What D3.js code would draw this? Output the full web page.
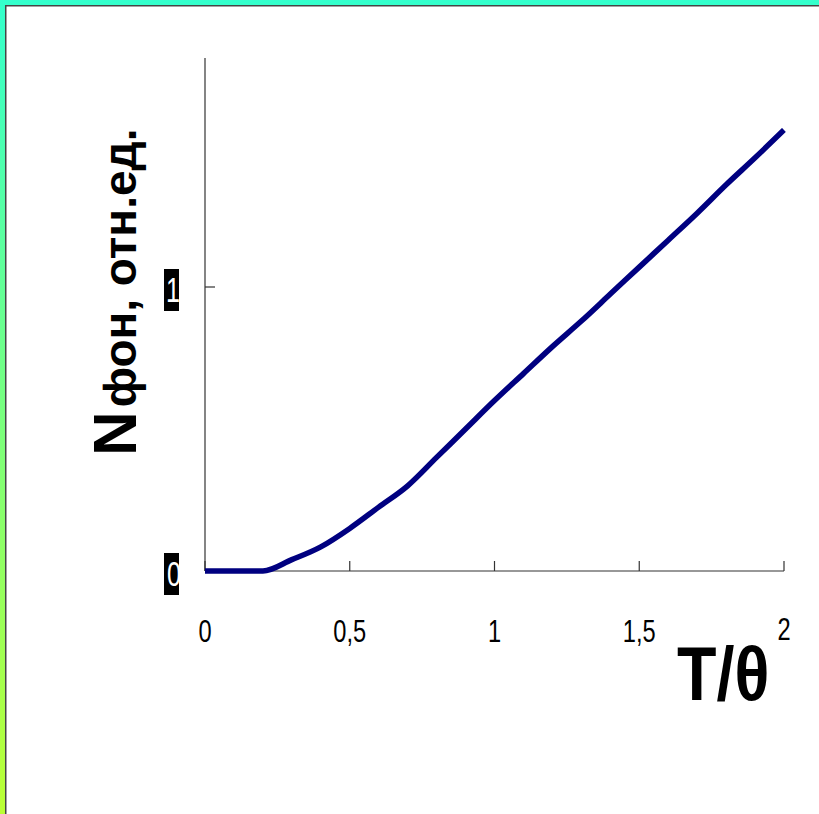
<!DOCTYPE html>
<html>
<head>
<meta charset="utf-8">
<script src="https://cdn.jsdelivr.net/npm/d3@7/dist/d3.min.js"></script>
<style>
html,body{margin:0;padding:0;}
body{width:819px;height:814px;overflow:hidden;background:#fff;}
</style>
</head>
<body>
<script>
// Data
const xValues = [0, 0.1, 0.2, 0.3, 0.4, 0.5, 0.6, 0.7, 0.8, 0.9, 1.0, 1.1, 1.2, 1.3, 1.4, 1.5, 1.6, 1.7, 1.8, 1.9, 2.0];
const yValues = [0, 0, 0, 0.04, 0.085, 0.15, 0.225, 0.30, 0.40, 0.50, 0.60, 0.695, 0.79, 0.88, 0.975, 1.07, 1.165, 1.26, 1.36, 1.455, 1.553];
const xTicks = [0, 0.5, 1, 1.5, 2];
const xTickLabels = ["0", "0,5", "1", "1,5", "2"];
const yTicks = [0, 1];
const yTickLabels = ["0", "1"];
const xTitle = "T/θ";
const yTitleMain = "N";
const yTitleRest = "фон, отн.ед.";

const W = 819, H = 814;
const svg = d3.select("body").append("svg").attr("width", W).attr("height", H);

// frame background gradient
const defs = svg.append("defs");
const grad = defs.append("linearGradient").attr("id", "bg").attr("x1", 0).attr("y1", 0).attr("x2", 0).attr("y2", 1);
grad.append("stop").attr("offset", "0%").attr("stop-color", "#33FFCC");
grad.append("stop").attr("offset", "100%").attr("stop-color", "#BBFF33");
svg.append("rect").attr("width", W).attr("height", H).attr("fill", "url(#bg)");
svg.append("rect").attr("x", 5).attr("y", 5).attr("width", W - 5).attr("height", H - 5).attr("fill", "#444");
svg.append("rect").attr("x", 6.5).attr("y", 6.5).attr("width", W - 6.5).attr("height", H - 6.5).attr("fill", "#fff");

const x = d3.scaleLinear().domain([0, 2]).range([205, 784]);
const y = d3.scaleLinear().domain([0, 1]).range([571, 287]);
const yTop = 58;

const axisColor = "#333";
const sans = "'Liberation Sans', Arial, sans-serif";

// y axis
svg.append("line").attr("x1", x(0)).attr("x2", x(0)).attr("y1", yTop).attr("y2", y(0))
  .attr("stroke", axisColor).attr("stroke-width", 1.2);
// x axis
svg.append("line").attr("x1", x(0)).attr("x2", x(2)).attr("y1", y(0)).attr("y2", y(0))
  .attr("stroke", axisColor).attr("stroke-width", 1.2);

// x ticks (inside, upward)
svg.selectAll(".xt").data(xTicks).enter().append("line")
  .attr("x1", d => x(d)).attr("x2", d => x(d))
  .attr("y1", y(0)).attr("y2", y(0) - 10)
  .attr("stroke", axisColor).attr("stroke-width", 1.2);
// y ticks (inside, right)
svg.selectAll(".yt").data(yTicks).enter().append("line")
  .attr("x1", x(0)).attr("x2", x(0) + 10)
  .attr("y1", d => y(d)).attr("y2", d => y(d))
  .attr("stroke", axisColor).attr("stroke-width", 1.2);

// x tick labels (condensed)
svg.selectAll(".xl").data(xTicks).enter().append("text")
  .attr("transform", d => `translate(${x(d)},${d === 2 ? 640 : 642}) scale(0.74,1)`)
  .attr("text-anchor", "middle")
  .attr("font-family", sans).attr("font-size", 32)
  .attr("fill", "#000")
  .text((d, i) => xTickLabels[i]);

// y tick labels: white on black boxes, clipped
yTicks.forEach((d, i) => {
  const cy = y(d) + 3;
  const id = "clipY" + i;
  defs.append("clipPath").attr("id", id).append("rect")
    .attr("x", 164).attr("y", cy - 21).attr("width", 15).attr("height", 42);
  svg.append("rect").attr("x", 164).attr("y", cy - 21).attr("width", 15).attr("height", 42).attr("fill", "#000");
  svg.append("g").attr("clip-path", "url(#" + id + ")")
    .append("text")
    .attr("transform", `translate(${d === 0 ? 174 : 173},${cy + 12}) scale(0.72,1)`)
    .attr("text-anchor", "middle")
    .attr("font-family", sans).attr("font-size", 35)
    .attr("fill", "#fff")
    .text(yTickLabels[i]);
});

// curve
const pts = xValues.map((v, i) => [v, yValues[i]]);
svg.append("path").datum(pts)
  .attr("d", d3.line().x(d => x(d[0])).y(d => y(d[1])).curve(d3.curveMonotoneX))
  .attr("fill", "none").attr("stroke", "#000080").attr("stroke-width", 5.5)
  .attr("stroke-linejoin", "round");

// x title (condensed bold)
svg.append("text").attr("transform", "translate(677,700) scale(0.85,1)")
  .attr("font-family", sans).attr("font-weight", "bold").attr("font-size", 76)
  .attr("fill", "#000").text(xTitle);

// y title
const yt = svg.append("text").attr("transform", "translate(136,456) rotate(-90)")
  .attr("font-family", sans).attr("font-weight", "bold")
  .attr("fill", "#000");
yt.append("tspan").attr("font-size", 62).text(yTitleMain);
yt.append("tspan").attr("font-size", 46).attr("dx", 4).text(yTitleRest);
</script>
</body>
</html>
